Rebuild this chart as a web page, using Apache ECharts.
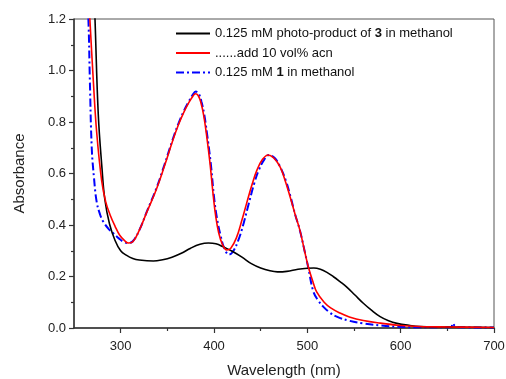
<!DOCTYPE html>
<html>
<head>
<meta charset="utf-8">
<script src="https://cdn.jsdelivr.net/npm/echarts@6/dist/echarts.min.js"></script>
<style>html,body{margin:0;padding:0;background:#fff;}#c{width:506px;height:379px;}</style>
</head>
<body>
<div id="c"></div>
<script>
var xMajorTicks = [300, 400, 500, 600, 700];
var xMinorTicks = [350, 450, 550, 650];
var seriesNames = ['0.125 mM photo-product of 3 in methanol', '......add 10 vol% acn', '0.125 mM 1 in methanol'];

var blackWl = [270,272.5,276,280,283,288,294,300,306,313,320,335,345,355,365,375,385,394,402,410,420,430,440,450,460,468,478,490,500,507,514,521,528,535,542,551,560,569,578,587,596,610,621,640,670,700];
var blackAbs = [1.45,1.2,0.83,0.62,0.5,0.405,0.34,0.30,0.283,0.27,0.264,0.26,0.265,0.275,0.29,0.31,0.325,0.33,0.327,0.315,0.297,0.275,0.25,0.233,0.222,0.218,0.22,0.228,0.232,0.233,0.228,0.216,0.199,0.18,0.16,0.128,0.096,0.068,0.044,0.028,0.018,0.01,0.006,0.004,0.003,0.002];

var redWl = [264,267,270.7,274.3,279.7,284,288.6,294,299,304,308,313,320,328,338,347,356,362,368,373,377,380,383,386,389,392,395.7,399.3,402,405,409,413.6,418,424,430,435,441,446,452,458,464,470.8,476,481.5,487,492,497,501,506,510,518,525,535,545,560,578,600,620,650,700];
var redAbs = [1.4,1.2,0.96,0.76,0.57,0.49,0.44,0.395,0.36,0.34,0.33,0.335,0.38,0.45,0.536,0.63,0.73,0.79,0.84,0.875,0.898,0.91,0.903,0.875,0.825,0.75,0.64,0.51,0.43,0.37,0.325,0.303,0.31,0.35,0.42,0.485,0.56,0.613,0.655,0.672,0.66,0.626,0.575,0.51,0.44,0.38,0.3,0.238,0.18,0.14,0.1,0.078,0.058,0.043,0.029,0.019,0.01,0.006,0.004,0.002];

var blueWl = [262,265.4,267,269,271.5,274.3,278,281.4,287,292,298,303,308,313,320,328,338,347,356,362,368,373,377,380.5,383.5,386.5,389.5,392.5,396.5,400,403,407,411,416,420,426,432,437,443,448,454,459,465,471,477,482,487,492,497,501,506.5,512,517,524,531.5,545,560,578,596,620,650,654,656,658,662,700];
var blueAbs = [1.45,1.2,0.96,0.70,0.58,0.49,0.44,0.413,0.385,0.368,0.348,0.335,0.33,0.337,0.38,0.452,0.54,0.635,0.735,0.795,0.845,0.88,0.905,0.918,0.911,0.88,0.83,0.755,0.64,0.51,0.43,0.36,0.31,0.285,0.295,0.34,0.41,0.48,0.56,0.613,0.655,0.672,0.66,0.625,0.572,0.51,0.44,0.38,0.3,0.235,0.141,0.105,0.083,0.06,0.044,0.028,0.018,0.01,0.005,0.003,0.003,0.004,0.018,0.008,0.003,0.002];

function pairs(xs, ys) { return xs.map(function (x, i) { return [x, ys[i]]; }); }

var FONT = '"Liberation Sans", Arial, sans-serif';
var chart = echarts.init(document.getElementById('c'), null, {renderer: 'canvas'});
chart.setOption({
  backgroundColor: '#ffffff',
  animation: false,
  textStyle: {fontFamily: FONT},
  grid: {left: 74, right: 12, top: 19, bottom: 51, outerBoundsMode: 'none', containLabel: false,
    show: true, borderColor: '#555', borderWidth: 1, backgroundColor: 'transparent'},
  legend: {
    show: true, padding: 0,
    orient: 'vertical', left: 175, top: 27, itemWidth: 34, itemHeight: 13, itemGap: 6.5,
    itemStyle: {opacity: 0},
    data: seriesNames,
    textStyle: {fontSize: 13, color: '#111', fontFamily: FONT,
      rich: {b: {fontWeight: 'bold', fontSize: 13, color: '#111', fontFamily: FONT}}},
    formatter: function (n) {
      if (n === seriesNames[0]) return '0.125 mM photo-product of {b|3} in methanol';
      if (n === seriesNames[2]) return '0.125 mM {b|1} in methanol';
      return n;
    }
  },
  xAxis: [{
    type: 'value', min: 250, max: 700,
    name: 'Wavelength (nm)', nameLocation: 'middle', nameGap: 35,
    nameTextStyle: {fontSize: 15, color: '#222', fontFamily: FONT},
    axisLine: {show: true, onZero: false, lineStyle: {color: '#333', width: 1.5}},
    axisTick: {show: true, inside: false, length: 5, customValues: xMajorTicks, lineStyle: {color: '#333', width: 1.2}},
    axisLabel: {show: true, margin: 12, fontSize: 13, color: '#222', customValues: xMajorTicks, fontFamily: FONT},
    splitLine: {show: false}
  }, {
    type: 'value', min: 250, max: 700, position: 'bottom',
    axisLine: {show: false},
    axisTick: {show: true, inside: false, length: 3, customValues: xMinorTicks, lineStyle: {color: '#333', width: 1.2}},
    axisLabel: {show: false},
    splitLine: {show: false}
  }],
  yAxis: {
    type: 'value', min: 0, max: 1.2, interval: 0.2,
    name: 'Absorbance', nameLocation: 'middle', nameGap: 47,
    nameTextStyle: {fontSize: 15, color: '#222', fontFamily: FONT},
    axisLine: {show: true, onZero: false, lineStyle: {color: '#333', width: 1.5}},
    axisTick: {show: true, inside: false, length: 5, lineStyle: {color: '#333', width: 1.2}},
    minorTick: {show: true, splitNumber: 2, length: 3, lineStyle: {color: '#333', width: 1.2}},
    axisLabel: {margin: 8, fontSize: 13, color: '#222', fontFamily: FONT,
      formatter: function (v) { return v.toFixed(1); }},
    splitLine: {show: false}
  },
  series: [{
    name: seriesNames[0], type: 'line', xAxisIndex: 0, data: pairs(blackWl, blackAbs),
    symbol: 'none', smooth: 0.4, clip: true, z: 3,
    lineStyle: {color: '#000000', width: 1.6}, itemStyle: {color: '#000000'}
  }, {
    name: seriesNames[1], type: 'line', xAxisIndex: 0, data: pairs(redWl, redAbs),
    symbol: 'none', smooth: 0.4, clip: true, z: 4,
    lineStyle: {color: '#ff0000', width: 1.6}, itemStyle: {color: '#ff0000'}
  }, {
    name: seriesNames[2], type: 'line', xAxisIndex: 0, data: pairs(blueWl, blueAbs),
    symbol: 'none', smooth: 0.4, clip: true, z: 2,
    lineStyle: {color: '#0000ff', width: 2, type: [8, 3, 2, 3]}, itemStyle: {color: '#0000ff'}
  }]
});
</script>
</body>
</html>
